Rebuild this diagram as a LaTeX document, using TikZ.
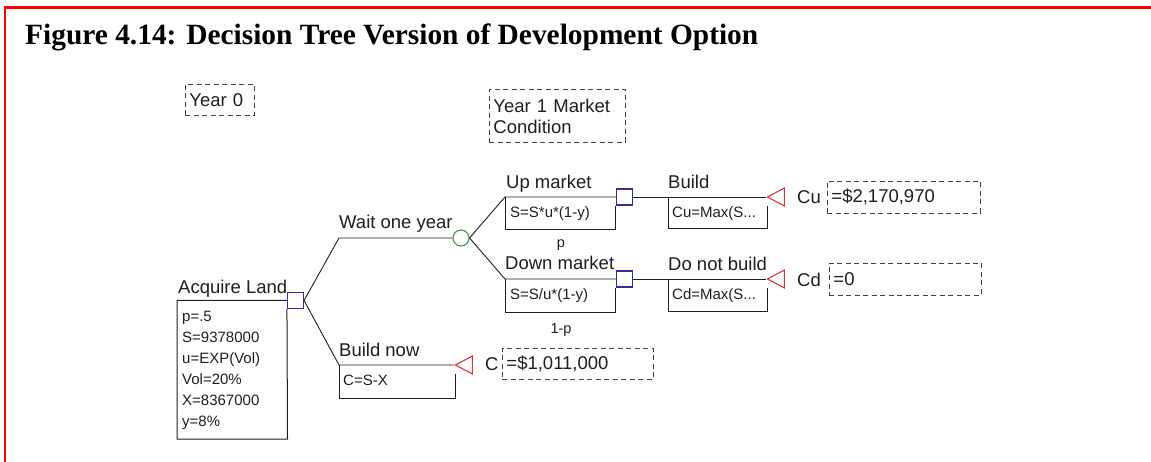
\documentclass[tikz,border=0pt]{standalone}
\usepackage{fontspec}
\setmainfont{Liberation Serif}
\newfontfamily\treefont{Liberation Sans}
\usetikzlibrary{shapes.geometric}
\definecolor{framered}{RGB}{255,0,0}
\definecolor{ink}{RGB}{30,30,30}
\definecolor{decblue}{RGB}{45,45,165}
\definecolor{chgreen}{RGB}{70,150,70}
\definecolor{endred}{RGB}{215,55,55}
\tikzset{
  lbl/.style={anchor=base west, inner sep=0pt, text=ink, font=\treefont\fontsize{18.5}{21}\selectfont},
  attr/.style={anchor=base west, inner sep=0pt, text=ink, font=\treefont\fontsize{15}{21}\selectfont},
  prob/.style={anchor=base, inner sep=0pt, text=ink, font=\treefont\fontsize{14.5}{17}\selectfont},
  branch/.style={draw=ink, line width=0.9pt},
  boxside/.style={draw=ink, line width=1pt},
  decision/.style={rectangle, draw=decblue, line width=1.1pt, minimum size=16pt, inner sep=0pt},
  chance/.style={circle, draw=chgreen, line width=1.1pt, minimum size=16pt, inner sep=0pt},
  terminal/.style={isosceles triangle, shape border rotate=180, isosceles triangle stretches,
    draw=endred, line width=1.1pt, minimum width=18pt, minimum height=17pt, inner sep=0pt, anchor=apex},
  dashbox/.style={rectangle, draw=ink!85, line width=0.9pt, dash pattern=on 5pt off 3.5pt, text=ink,
    font=\treefont\fontsize{18.5}{21}\selectfont, align=left, inner ysep=0pt, inner xsep=4pt}
}
\begin{document}
\begin{tikzpicture}[x=1pt,y=-1pt]
\useasboundingbox (0,0) rectangle (1151,462);

% frame and heading
\draw[framered, line width=2.4pt] (5,462) |- (1151,7.5);
\node[anchor=base west, inner sep=0pt, font=\bfseries\fontsize{29.4}{33}\selectfont] (title) at (25,45)
  {Figure 4.14: Decision Tree Version of Development Option};

% stage captions
\node[dashbox, text width=61pt, minimum height=31.5pt, anchor=north west] (yr0) at (185,84) {Year 0};
\node[dashbox, text width=128pt, minimum height=53pt, anchor=north west] (yr1) at (489,89) {Year 1 Market\\Condition};

% decision and chance nodes
\node[decision] (sqA) at (295.5,300.5) {};
\node[chance]   (chW) at (461,238) {};
\node[decision] (sqU) at (624.5,197) {};
\node[decision] (sqD) at (624.5,279) {};

% end nodes
\node[terminal] (tC) at (454,365) {};
\node[terminal] (tU) at (766,197) {};
\node[terminal] (tD) at (766,279) {};

% branch starts
\coordinate (w0) at (339,238);
\coordinate (b0) at (339,365);
\coordinate (u0) at (505,197);
\coordinate (d0) at (505,279);

% branches
\draw[branch] (sqA.east) -- (w0) -- (chW.west);
\draw[branch] (sqA.east) -- (b0) -- (tC.apex);
\draw[branch] (chW.east) -- (u0) -- (sqU.west);
\draw[branch] (chW.east) -- (d0) -- (sqD.west);
\draw[branch] (sqU.east) -- (tU.apex);
\draw[branch] (sqD.east) -- (tD.apex);

% attribute boxes under branches
\draw[boxside] (sqA.south west) -- (287.5,439) -| (177,300.5) -- (sqA.west);
\draw[boxside] (b0) -- (339,398) -| (455,374);
\draw[boxside] (u0) -- (505,230) -| (sqU.south west);
\draw[boxside] (d0) -- (505,313) -| (sqD.south west);
\draw[boxside] (668,197) -- (668,229) -| (767.5,206);
\draw[boxside] (668,279) -- (668,312) -| (767.5,288);

% branch labels
\node[lbl] (lA) at (178,293.5) {Acquire Land};
\node[lbl] (lW) at (339,228.5) {Wait one year};
\node[lbl] (lB) at (339,356) {Build now};
\node[lbl] (lU) at (506,188.5) {Up market};
\node[lbl] (lD) at (505,269.5) {Down market};
\node[lbl] (lBu) at (668,188.5) {Build};
\node[lbl] (lNb) at (668,270.5) {Do not build};

% box contents
\node[attr] (a1) at (182,321) {p=.5};
\node[attr] (a2) at (182,342) {S=9378000};
\node[attr] (a3) at (182,363) {u=EXP(Vol)};
\node[attr] (a4) at (182,384) {Vol=20\%};
\node[attr] (a5) at (182,405) {X=8367000};
\node[attr] (a6) at (182,426) {y=8\%};
\node[attr] (fC) at (343,385) {C=S-X};
\node[attr] (fU) at (510,218) {S=S*u*(1-y)};
\node[attr] (fD) at (510,300) {S=S/u*(1-y)};
\node[attr] (fBu) at (672,218) {Cu=Max(S...};
\node[attr] (fNb) at (672,300) {Cd=Max(S...};

% probabilities
\node[prob] (pU) at (561,248) {p};
\node[prob] (pD) at (561,333.5) {1-p};

% payoffs
\node[lbl] (nC) at (485,370.5) {C};
\node[lbl] (nU) at (797,203.5) {Cu};
\node[lbl] (nD) at (797,286.5) {Cd};
\node[dashbox, text width=143pt, minimum height=31pt, anchor=west] (vC) at (502,363.5) {=\$1,011,000};
\node[dashbox, text width=145pt, minimum height=32pt, anchor=west] (vU) at (827,197) {=\$2,170,970};
\node[dashbox, text width=144pt, minimum height=32pt, anchor=west] (vD) at (829,279) {=0};
\end{tikzpicture}
\end{document}
